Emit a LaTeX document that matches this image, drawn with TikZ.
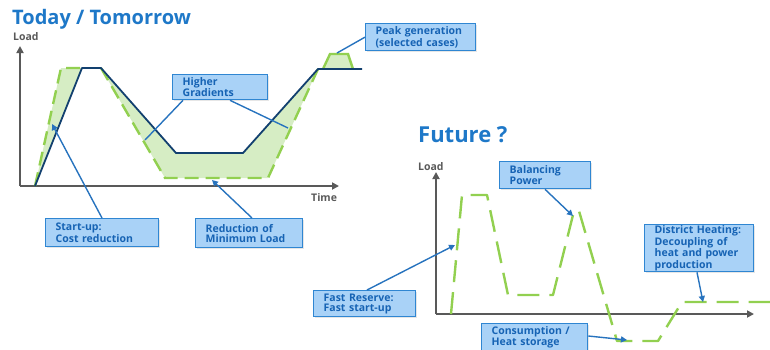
\documentclass[tikz,border=0pt]{standalone}
\usepackage{fontspec}
\setmainfont{Open Sans}
\usetikzlibrary{arrows.meta,calc,shadows}
\definecolor{titleblue}{HTML}{1E78C8}
\definecolor{boxfill}{HTML}{A9D2F7}
\definecolor{boxdraw}{HTML}{2F86D2}
\definecolor{boxtext}{HTML}{1663B4}
\definecolor{conn}{HTML}{2773BE}
\definecolor{lgreen}{HTML}{92D050}
\definecolor{fgreen}{HTML}{D6EDC4}
\definecolor{dblue}{HTML}{12406F}
\definecolor{axgray}{HTML}{595959}
\tikzset{
  infobox/.style={draw=boxdraw, fill=boxfill, line width=1.3pt, align=left,
    inner xsep=10pt, inner ysep=0pt, anchor=north west, text=boxtext,
    drop shadow={opacity=0.2, shadow xshift=1pt, shadow yshift=-1pt},
    font=\fontsize{10.5}{9.8}\selectfont\bfseries},
  conline/.style={draw=conn, line width=1.4pt},
  conarrow/.style={conline, -{Triangle[length=6pt,width=6pt]}},
  axis/.style={draw=axgray, line width=2.2pt, -{Triangle[length=7pt,width=7pt]}},
  axlabel/.style={text=axgray, inner sep=0pt, anchor=base west, font=\fontsize{10.5}{11}\selectfont\bfseries},
  heading/.style={text=titleblue, inner sep=0pt, anchor=base west, font=\bfseries},
  greendash/.style={draw=lgreen, line width=2.4pt, dash pattern=on 14pt off 7pt},
  greendashb/.style={draw=lgreen, line width=2.4pt, dash pattern=on 22pt off 10pt},
  darkline/.style={draw=dblue, line width=1.8pt, line join=round}
}
\begin{document}
\begin{tikzpicture}[x=1pt,y=-1pt]
\useasboundingbox (0,0) rectangle (770,349);
\clip (0,0) rectangle (770,349);
% headings
\node[heading, font=\fontsize{20}{24}\selectfont\bfseries] (t1) at (12,24) {Today / Tomorrow};
\node[heading, font=\fontsize{22}{24}\selectfont\bfseries] (t2) at (418,142) {Future ?};
% left chart axes
\coordinate (o1) at (20,186);
\coordinate (y1) at (20,46);
\coordinate (x1) at (339,186);
\draw[axis] (o1) -- (y1);
\draw[axis] (o1) -- (x1);
\node[axlabel] (l1) at (13,40) {Load};
\node[axlabel] (tm) at (311,201) {Time};
% fills
\fill[fgreen] (35,186) -- (61,68) -- (82,68) -- cycle;
\fill[fgreen] (101,68) -- (165,178) -- (268,178) -- (318,69) -- (243,153) -- (176,153) -- cycle;
\fill[fgreen] (323,69) -- (330,54) -- (348,54) -- (353,69) -- cycle;
% green dashed
\draw[greendash] (35,186) -- (61,68) -- (82,68);
\draw[greendash] (101,68) -- (165,178) -- (268,178) -- (318,69);
\draw[draw=lgreen, line width=2.4pt] (323,69) -- (330,54) -- (348,54) -- (353,69);
% dark line
\draw[darkline] (35,186) -- (82,68) -- (101,68) -- (176,153) -- (243,153) -- (318,69) -- (362,69);
% right chart axes
\coordinate (o2) at (436,314);
\coordinate (y2) at (436,172);
\coordinate (x2) at (754,314);
\draw[axis] (o2) -- (y2);
\draw[axis] (o2) -- (x2);
\node[axlabel] (l2) at (418,170) {Load};
\draw[greendashb, line join=round] (451,314) -- (462,195) -- (487,195) -- (508,295) -- (553,295) -- (574,211) -- (579,211) -- (617,341) -- (658,341) -- (682,302) -- (775,302);
% boxes
\node[infobox, text width=75pt, minimum height=25pt] (hg) at (172,74) {Higher\\Gradients};
\node[infobox, text width=93pt, minimum height=28pt] (su) at (45,218) {Start-up:\\Cost reduction};
\node[infobox, text width=87pt, minimum height=29pt] (rm) at (195,218) {Reduction of\\Minimum Load};
\node[infobox, text width=90pt, minimum height=27pt] (pg) at (365,23) {Peak generation\\(selected cases)};
\node[infobox, text width=71pt, minimum height=27pt] (bp) at (499,161) {Balancing\\Power};
\node[infobox, text width=89pt, minimum height=47pt] (dh) at (644,224) {District Heating:\\Decoupling of\\heat and power\\production};
\node[infobox, text width=82pt, minimum height=26pt] (fr) at (313,290) {Fast Reserve:\\Fast start-up};
\node[infobox, text width=86pt, minimum height=28pt] (ch) at (481,323) {Consumption /\\Heat storage};
% connector ends
\coordinate (hgA) at (145,140);
\coordinate (hgB) at (288,128);
\coordinate (pgE) at (337,53);
\coordinate (suE) at (52,124);
\coordinate (rmE) at (212,180);
\coordinate (bpE) at (573,216);
\coordinate (dhE) at (703,302);
\coordinate (frE) at (455,245);
\coordinate (chE) at (627,340);
% connectors
\draw[conline] ($(hg.south west)+(11,0)$) -- (hgA);
\draw[conline] ($(hg.south west)+(58,0)$) -- (hgB);
\draw[conline] (pg.west) -- (pgE);
\draw[conarrow] ($(su.north west)+(57,0)$) -- (suE);
\draw[conarrow] ($(rm.north west)+(57,0)$) -- (rmE);
\draw[conarrow] ($(bp.south west)+(46,0)$) -- (bpE);
\draw[conarrow] ($(dh.south west)+(53,0)$) -- (dhE);
\draw[conarrow] ($(fr.north west)+(54,0)$) -- (frE);
\draw[conarrow] ($(ch.north east)+(0,13)$) -- (chE);
\end{tikzpicture}
\end{document}
